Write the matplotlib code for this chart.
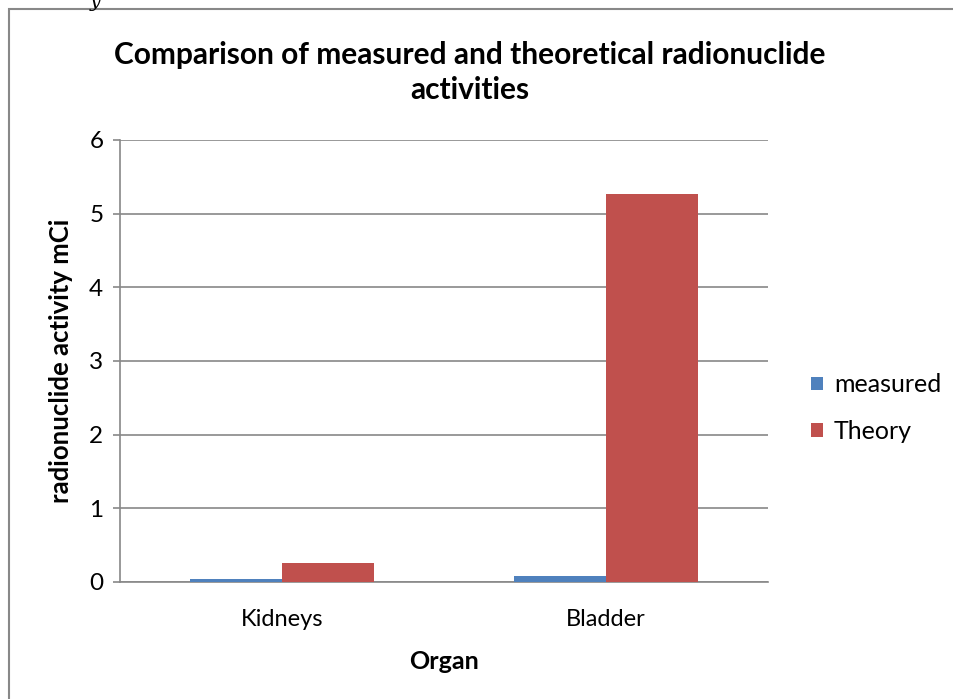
import matplotlib
matplotlib.use("Agg")
import matplotlib.pyplot as plt
import numpy as np
from matplotlib.patches import Rectangle

organs = ["Kidneys", "Bladder"]
measured = [0.04, 0.08]
theory = [0.26, 5.27]
series_labels = ["measured", "Theory"]

BLUE = "#4F81BD"
RED = "#C0504D"
GRID = "#888888"
FONT = "Lato"

fig = plt.figure(figsize=(9.54, 6.99), dpi=100)
ax = fig.add_axes([120 / 954, 1 - 582 / 699, 648 / 954, 442 / 699])

x = np.arange(len(organs))
w = 0.284
ax.bar(x - w / 2, measured, w, color=BLUE, label=series_labels[0], zorder=3)
ax.bar(x + w / 2, theory, w, color=RED, label=series_labels[1], zorder=3)

ax.set_xlim(-0.5, 1.5)
ax.set_ylim(0, 6)
ax.set_yticks(range(0, 7))
ax.grid(axis="y", color=GRID, linewidth=1.2, zorder=0)
ax.set_axisbelow(True)
for s in ["top", "right"]:
    ax.spines[s].set_visible(False)
for s in ["left", "bottom"]:
    ax.spines[s].set_color(GRID)
    ax.spines[s].set_linewidth(1.2)
ax.tick_params(axis="y", length=5, color=GRID, width=1.2, labelsize=17.5, pad=7)
ax.tick_params(axis="x", length=0, labelsize=17, pad=19.5)
ax.set_xticks(x)
ax.set_xticklabels(organs, fontfamily=FONT)
for t in ax.get_yticklabels():
    t.set_fontfamily(FONT)

ax.set_xlabel("Organ", fontsize=18, fontweight="bold", fontfamily=FONT, labelpad=14)
ax.set_ylabel("radionuclide activity mCi", fontsize=18.5, fontweight="bold",
              fontfamily=FONT)
ax.yaxis.set_label_coords(-0.072, 0.5)

fig.text(0.492, 1 - 55 / 699, "Comparison of measured and theoretical radionuclide",
         ha="center", va="center", fontsize=21.5, fontweight="bold", fontfamily=FONT)
fig.text(0.492, 1 - 90 / 699, "activities",
         ha="center", va="center", fontsize=21.5, fontweight="bold", fontfamily=FONT)

fig.legend(handles=ax.patches[:1] + ax.patches[2:3], labels=series_labels,
           loc="center left", bbox_to_anchor=(789 / 954, 1 - 408 / 699),
           frameon=False, prop={"family": FONT, "size": 18},
           handlelength=0.45, handleheight=0.45, handletextpad=0.45, labelspacing=0.95)

# chart-area border (cut off at right/bottom like the source screenshot)
fig.patches.append(Rectangle((9 / 954, -0.1), 1.2, 1 - 9 / 699 + 0.1,
                             transform=fig.transFigure, fill=False,
                             edgecolor=GRID, linewidth=1.5))
fig.text(95 / 954, 1 - 2 / 699, "y", ha="center", va="center", fontsize=14,
         style="italic", fontfamily="DejaVu Serif")

fig.savefig("out.png", dpi=100)
